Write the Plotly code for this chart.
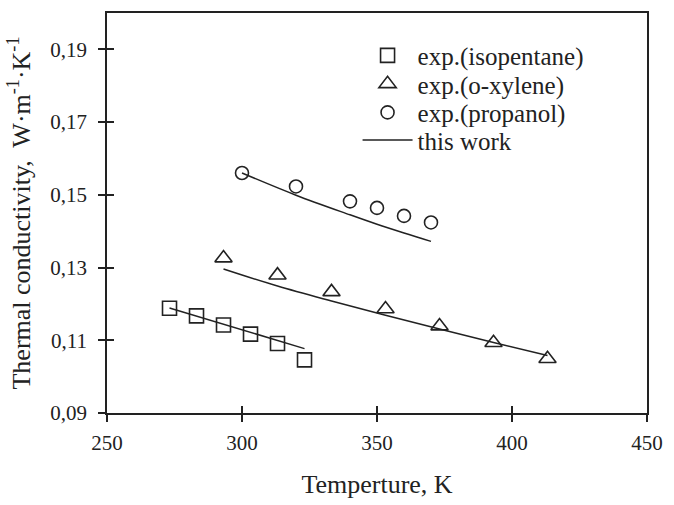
import plotly.graph_objects as go

# Data
T_isopentane = [273.15, 283.15, 293.15, 303.15, 313.15, 323.15]
k_isopentane_exp = [0.1188, 0.1167, 0.1142, 0.1117, 0.1091, 0.1046]
k_isopentane_calc = [0.1189, 0.1167, 0.1144, 0.1122, 0.1099, 0.1077]

T_oxylene = [293.15, 313.15, 333.15, 353.15, 373.15, 393.15, 413.15]
k_oxylene_exp = [0.1326, 0.1279, 0.1233, 0.1186, 0.1139, 0.1093, 0.1049]
k_oxylene_calc = [0.1296, 0.1249, 0.1208, 0.1169, 0.1131, 0.1094, 0.1058]

T_propanol = [300, 320, 340, 350, 360, 370]
k_propanol_exp = [0.1560, 0.1523, 0.1482, 0.1464, 0.1442, 0.1424]
k_propanol_calc = [0.1560, 0.1499, 0.1445, 0.1419, 0.1395, 0.1372]

x_ticks = [250, 300, 350, 400, 450]
y_ticks = [0.09, 0.11, 0.13, 0.15, 0.17, 0.19]

INK = "#222222"
FONT = "Liberation Serif"

fig = go.Figure()

def marker(symbol, size):
    return dict(symbol=symbol, size=size, color=INK, line=dict(color=INK, width=1.6))

fig.add_trace(go.Scatter(x=T_isopentane, y=k_isopentane_exp, mode="markers",
                         name="exp.(isopentane)", legend="legend",
                         marker=marker("square-open", 14)))
fig.add_trace(go.Scatter(x=T_oxylene, y=k_oxylene_exp, mode="markers",
                         name="exp.(o-xylene)", legend="legend2",
                         marker=marker("triangle-up-open", 15)))
fig.add_trace(go.Scatter(x=T_propanol, y=k_propanol_exp, mode="markers",
                         name="exp.(propanol)", legend="legend3",
                         marker=marker("circle-open", 13)))
fig.add_trace(go.Scatter(x=T_isopentane, y=k_isopentane_calc, mode="lines",
                         name="this work", legend="legend4",
                         line=dict(color=INK, width=1.5)))
fig.add_trace(go.Scatter(x=T_oxylene, y=k_oxylene_calc, mode="lines", showlegend=False,
                         line=dict(color=INK, width=1.5, shape="spline")))
fig.add_trace(go.Scatter(x=T_propanol, y=k_propanol_calc, mode="lines", showlegend=False,
                         line=dict(color=INK, width=1.5, shape="spline")))

axis_common = dict(showgrid=False, zeroline=False, linecolor=INK, linewidth=1.5,
                   tickcolor=INK, tickwidth=1.5, ticklen=7,
                   ticklabeloverflow="allow",
                   tickfont=dict(family=FONT, size=21, color=INK))

def legend_at(y):
    return dict(x=0.464, y=y, xanchor="left", yanchor="middle",
                bgcolor="rgba(0,0,0,0)", itemwidth=50,
                font=dict(family=FONT, size=25, color=INK),
                tracegroupgap=0, itemsizing="trace")

fig.update_layout(
    width=674, height=505,
    margin=dict(l=107, r=18, t=11, b=88),
    paper_bgcolor="white", plot_bgcolor="white",
    separators=",.",
    font=dict(family=FONT, color=INK),
    showlegend=True,
    legend=legend_at(0.8935),
    legend2=legend_at(0.8222),
    legend3=legend_at(0.7509),
    legend4=legend_at(0.682),
    xaxis=dict(range=[250, 450], tickvals=x_ticks, ticks="outside", mirror=True,
               showline=True, ticklabelstandoff=3,
               title=dict(text="Temperture, K", font=dict(family=FONT, size=26, color=INK),
                          standoff=21),
               **axis_common),
    yaxis=dict(range=[0.09, 0.20], tickvals=y_ticks, tickformat=".2f", ticks="outside",
               mirror=True, showline=True, ticklabelstandoff=7,
               title=dict(text="Thermal conductivity,  W·m<sup>-1</sup>·K<sup>-1</sup>",
                          font=dict(family=FONT, size=26, color=INK), standoff=12),
               **axis_common),
    xaxis2=dict(range=[250, 450], tickvals=x_ticks, ticks="inside", overlaying="x",
                showticklabels=False, showline=False, showgrid=False, zeroline=False,
                tickcolor=INK, tickwidth=1.5, ticklen=7),
    yaxis2=dict(range=[0.09, 0.20], tickvals=y_ticks, ticks="inside", overlaying="y",
                showticklabels=False, showline=False, showgrid=False, zeroline=False,
                tickcolor=INK, tickwidth=1.5, ticklen=7),
)

# invisible trace to activate the overlay axes (inside tick halves)
fig.add_trace(go.Scatter(x=[None], y=[None], xaxis="x2", yaxis="y2", showlegend=False,
                         hoverinfo="skip"))

fig.write_html("out.html",
               config={"displayModeBar": False, "responsive": False},
               post_script="document.body.style.margin='0';")
